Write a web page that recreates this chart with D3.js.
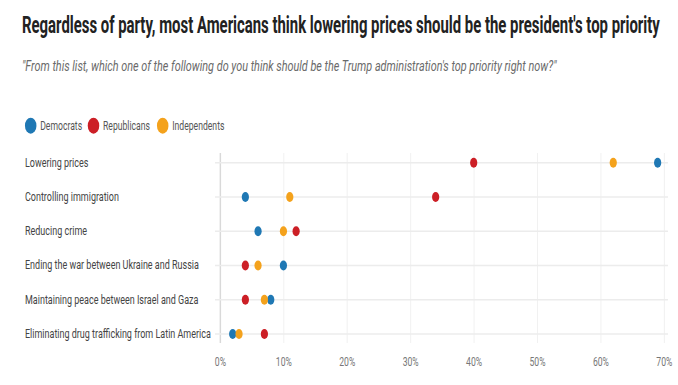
<!DOCTYPE html>
<html>
<head>
<meta charset="utf-8">
<script src="https://cdn.jsdelivr.net/npm/d3@7"></script>
<style>
  html, body { margin: 0; padding: 0; background: #fff; }
  svg { display: block; }
  text { font-family: Roboto, "Noto Sans", sans-serif; }
</style>
</head>
<body>
<svg id="chart" width="678" height="385"></svg>
<script>
// ---- data ----
const categories = [
  "Lowering prices",
  "Controlling immigration",
  "Reducing crime",
  "Ending the war between Ukraine and Russia",
  "Maintaining peace between Israel and Gaza",
  "Eliminating drug trafficking from Latin America"
];
const seriesNames = ["Democrats", "Republicans", "Independents"];
const democrats    = [69, 4, 6, 10, 8, 2];
const republicans  = [40, 34, 12, 4, 4, 7];
const independents = [62, 11, 10, 6, 7, 3];
const tickValues = [0, 10, 20, 30, 40, 50, 60, 70];
const tickLabels = ["0%", "10%", "20%", "30%", "40%", "50%", "60%", "70%"];
const titleText = "Regardless of party, most Americans think lowering prices should be the president's top priority";
const subtitleText = "\"From this list, which one of the following do you think should be the Trump administration's top priority right now?\"";

const colors = { Democrats: "#1f78b4", Republicans: "#cc1f26", Independents: "#f4a21c" };
const seriesValues = { Democrats: democrats, Republicans: republicans, Independents: independents };

const svg = d3.select("#chart");

// ---- title & subtitle: each condensed to the reference width ----
function condensedText(str, left, baseline, width, attrs) {
  const g = svg.append("g");
  const t = g.append("text").attr("x", 0).attr("y", 0).text(str);
  Object.entries(attrs).forEach(([k, v]) => t.attr(k, v));
  const natural = t.node().getComputedTextLength();
  const s = width / natural;
  g.attr("transform", `translate(${left},${baseline}) scale(${s},1)`);
}
condensedText(titleText, 22, 33, 638,
  { "font-size": 24, "font-weight": 700, "fill": "#222" });
condensedText(subtitleText, 22, 70.5, 535,
  { "font-size": 14.5, "font-style": "italic", "fill": "#6a6a6a" });

// ---- chart body drawn horizontally condensed ----
const sx = 0.72;
const X = v => v / sx; // real px -> virtual px
const root = svg.append("g").attr("transform", `scale(${sx},1)`);

// legend
const legendPos = [30.7, 93.5, 162.7];
const legend = root.append("g");
seriesNames.forEach((name, i) => {
  legend.append("circle")
    .attr("cx", X(legendPos[i])).attr("cy", 125.7).attr("r", 8)
    .attr("fill", colors[name]);
  legend.append("text")
    .attr("x", X(legendPos[i] + 9.5)).attr("y", 130)
    .attr("font-size", 12).attr("fill", "#555")
    .text(name);
});

// scales
const x = d3.scaleLinear().domain([0, 70]).range([X(220), X(664)]);
const y = d3.scalePoint().domain(categories).range([162.7, 334]);
const gridTop = 153, gridBottom = 343;

// vertical gridlines + tick labels via axis
const xAxis = d3.axisBottom(x)
  .tickValues(tickValues)
  .tickFormat((d, i) => tickLabels[i])
  .tickSize(-(gridBottom - gridTop))
  .tickPadding(14.5);
const gx = root.append("g")
  .attr("transform", `translate(0,${gridBottom})`)
  .call(xAxis);
gx.select(".domain").remove();
gx.selectAll(".tick line")
  .attr("stroke", d => d === 0 ? "#d9d9d9" : "#efefef")
  .attr("stroke-width", d => d === 0 ? 2 : 1);
gx.selectAll(".tick text")
  .attr("font-size", 12).attr("fill", "#777")
  .attr("font-family", "Roboto, 'Noto Sans', sans-serif");

// horizontal row lines
root.append("g").selectAll("line")
  .data(categories).join("line")
  .attr("x1", X(215)).attr("x2", X(668))
  .attr("y1", d => y(d)).attr("y2", d => y(d))
  .attr("stroke", "#ececec").attr("stroke-width", 1.5);

// row labels
root.append("g").selectAll("text")
  .data(categories).join("text")
  .attr("x", X(25)).attr("y", d => y(d) + 4)
  .attr("font-size", 12.5).attr("fill", "#444")
  .text(d => d);

// dots
const dots = root.append("g");
seriesNames.forEach(name => {
  dots.selectAll(null)
    .data(categories.map((c, i) => ({ c, v: seriesValues[name][i] })))
    .join("circle")
    .attr("cx", d => x(d.v)).attr("cy", d => y(d.c)).attr("r", 5)
    .attr("fill", colors[name]);
});
</script>
</body>
</html>
